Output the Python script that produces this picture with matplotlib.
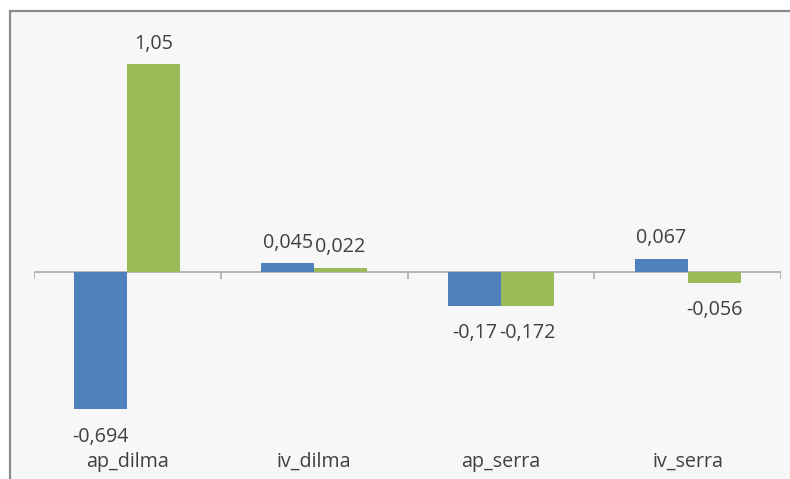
import matplotlib
matplotlib.use("Agg")
import matplotlib.pyplot as plt
from matplotlib.patches import Rectangle
from matplotlib.transforms import blended_transform_factory

categories = ["ap_dilma", "iv_dilma", "ap_serra", "iv_serra"]
series_a = [-0.694, 0.045, -0.17, 0.067]
series_b = [1.05, 0.022, -0.172, -0.056]

W, H = 790, 479
fig = plt.figure(figsize=(W / 100, H / 100), dpi=100)
fig.patch.set_facecolor("white")

# chart area frame (continues past the right and bottom edges)
frame = Rectangle((10 / W, -0.05), 1.05, 1 - 11 / H + 0.05,
                  transform=fig.transFigure, facecolor="#f7f7f7",
                  edgecolor="#8a8a8a", linewidth=1.6, zorder=-5)
fig.add_artist(frame)

scale = 198.0  # pixels per unit
zero_px = 272
ax = fig.add_axes([34 / W, 0, 747 / W, 1])
ax.set_zorder(1)
ax.set_xlim(-0.5, len(categories) - 0.5)
ax.set_ylim(-(H - zero_px) / scale, zero_px / scale)
ax.axis("off")
ax.patch.set_alpha(0)

font = "Open Sans"
txt_color = "#404040"
fs = 14.2
bw = 0.284
xs = range(len(categories))
for vals, off, col in [(series_a, -bw / 2, "#4f81bd"), (series_b, bw / 2, "#9bbb59")]:
    ax.bar([x + off for x in xs], vals, width=bw, color=col, zorder=2)
    for x, v in zip(xs, vals):
        dy = 14.8 if v >= 0 else -19.6
        ax.annotate(f"{v:g}".replace(".", ","), (x + off, v),
                    xytext=(0, dy), textcoords="offset points",
                    ha="center", va="center", fontsize=fs,
                    family=font, color=txt_color, zorder=3)

# category axis at zero with tick marks between groups
ax.axhline(0, color="#ababab", linewidth=1.2, zorder=1)
ax.vlines([i - 0.5 for i in range(len(categories) + 1)], -7 / scale, 0,
          color="#ababab", linewidth=1.2, zorder=1)

trans = blended_transform_factory(ax.transData, ax.transAxes)
for x, c in zip(xs, categories):
    ax.text(x, 17 / H, c, transform=trans, ha="center", va="center",
            fontsize=fs, family=font, color=txt_color)

fig.savefig("out.png", dpi=100)
